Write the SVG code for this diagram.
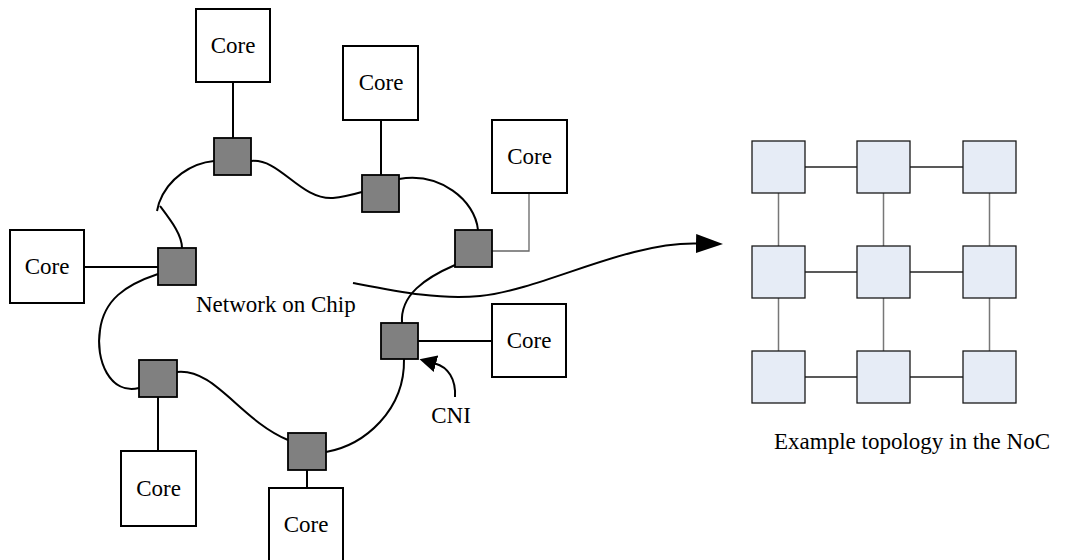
<svg xmlns="http://www.w3.org/2000/svg" width="1065" height="560" viewBox="0 0 1065 560">
  <style>
    .core { fill: #ffffff; stroke: #000000; stroke-width: 2; }
    .router { fill: #808080; stroke: #000000; stroke-width: 1.8; }
    .tile { fill: #e6ecf6; stroke: #1a1a1a; stroke-width: 1.3; }
    .lbl { font-family: "Liberation Serif", "Times New Roman", serif; font-size: 23px; fill: #000000; }
    .mid { text-anchor: middle; }
    .wire { fill: none; stroke: #000000; stroke-width: 2; }
    .thin { fill: none; stroke: #666666; stroke-width: 1.3; }
    .hlink { stroke: #222222; stroke-width: 1.5; }
    .vlink { stroke: #777777; stroke-width: 1.5; }
  </style>
  <defs>
    <marker id="head-lg" markerUnits="userSpaceOnUse" viewBox="0 0 27 19" refX="1" refY="9.5" markerWidth="27" markerHeight="19" orient="auto">
      <path d="M0,0 L27,9.5 L0,19 z" fill="#000000"/>
    </marker>
    <marker id="head-sm" markerUnits="userSpaceOnUse" viewBox="0 0 17 17" refX="1" refY="8.5" markerWidth="17" markerHeight="17" orient="auto">
      <path d="M0,0 L17,8.5 L0,17 z" fill="#000000"/>
    </marker>
  </defs>

  <!-- ring links, core attachments and arrows -->
  <g id="connectors">
    <!-- core to router attachments -->
    <line class="wire" x1="233" y1="82" x2="233" y2="138"/>
    <line class="wire" x1="381" y1="120" x2="381" y2="175"/>
    <polyline class="thin" points="529,193 529,251 492,251"/>
    <line class="wire" x1="84" y1="267" x2="158" y2="267"/>
    <line class="wire" x1="492" y1="341" x2="418" y2="341"/>
    <line class="wire" x1="158" y1="451" x2="158" y2="397"/>
    <line class="wire" x1="307" y1="488" x2="307" y2="470"/>

    <!-- ring between routers -->
    <path class="wire" d="M214,161 C192,163 168,178 159,203 L157,211"/>
    <path class="wire" d="M160,206 C172,222 182,235 182,248"/>
    <path class="wire" d="M251,161 C280,158 300,200 333,198 C345,197 355,194 362,192"/>
    <path class="wire" d="M399,179 C440,172 475,200 478,230"/>
    <path class="wire" d="M455,265 C425,278 400,295 402,323"/>
    <path class="wire" d="M404,359 C405,410 365,445 326,452"/>
    <path class="wire" d="M177,372 C215,368 240,420 288,440"/>
    <path class="wire" d="M139,388 C110,395 95,360 100,330 C104,300 125,285 158,274"/>

    <!-- arrow towards the topology -->
    <path class="wire" d="M353,283 C400,292 440,300 480,296 C545,289 625,242 697,243.5" marker-end="url(#head-lg)"/>
    <!-- CNI pointer -->
    <path class="wire" d="M455,397 C456,379 448,367 435,363.5" marker-end="url(#head-sm)"/>
  </g>

  <!-- cores -->
  <g id="core-top"><rect class="core" x="196" y="9" width="74" height="73"/><text class="lbl mid" x="233" y="53">Core</text></g>
  <g id="core-upper"><rect class="core" x="343" y="46" width="75" height="74"/><text class="lbl mid" x="381" y="90">Core</text></g>
  <g id="core-right"><rect class="core" x="492" y="120" width="75" height="73"/><text class="lbl mid" x="529.5" y="164">Core</text></g>
  <g id="core-left"><rect class="core" x="10" y="230" width="74" height="73"/><text class="lbl mid" x="47" y="274">Core</text></g>
  <g id="core-right-lower"><rect class="core" x="492" y="304" width="74" height="73"/><text class="lbl mid" x="529" y="348">Core</text></g>
  <g id="core-bottom-left"><rect class="core" x="121" y="451" width="75" height="75"/><text class="lbl mid" x="158.5" y="496">Core</text></g>
  <g id="core-bottom"><rect class="core" x="269" y="488" width="74" height="73"/><text class="lbl mid" x="306" y="532">Core</text></g>

  <!-- network interfaces (routers) -->
  <g id="router-1"><rect class="router" x="214" y="138" width="37" height="37"/></g>
  <g id="router-2"><rect class="router" x="362" y="175" width="37" height="37"/></g>
  <g id="router-3"><rect class="router" x="455" y="230" width="37" height="37"/></g>
  <g id="router-4"><rect class="router" x="381" y="323" width="37" height="36"/></g>
  <g id="router-5"><rect class="router" x="288" y="433" width="38" height="37"/></g>
  <g id="router-6"><rect class="router" x="139" y="360" width="38" height="37"/></g>
  <g id="router-7"><rect class="router" x="158" y="248" width="38" height="37"/></g>

  <!-- labels -->
  <g id="label-noc"><text class="lbl" x="196" y="312">Network on Chip</text></g>
  <g id="label-cni"><text class="lbl mid" x="451" y="423">CNI</text></g>

  <!-- mesh topology -->
  <g id="mesh-links">
    <line class="hlink" x1="805" y1="167" x2="857" y2="167"/>
    <line class="hlink" x1="910" y1="167" x2="963" y2="167"/>
    <line class="hlink" x1="805" y1="272" x2="857" y2="272"/>
    <line class="hlink" x1="910" y1="272" x2="963" y2="272"/>
    <line class="hlink" x1="805" y1="377" x2="857" y2="377"/>
    <line class="hlink" x1="910" y1="377" x2="963" y2="377"/>
    <line class="vlink" x1="778.5" y1="193" x2="778.5" y2="246"/>
    <line class="vlink" x1="883.5" y1="193" x2="883.5" y2="246"/>
    <line class="vlink" x1="989.5" y1="193" x2="989.5" y2="246"/>
    <line class="vlink" x1="778.5" y1="298" x2="778.5" y2="351"/>
    <line class="vlink" x1="883.5" y1="298" x2="883.5" y2="351"/>
    <line class="vlink" x1="989.5" y1="298" x2="989.5" y2="351"/>
  </g>
  <g id="tile-11"><rect class="tile" x="752" y="141" width="53" height="52"/></g>
  <g id="tile-12"><rect class="tile" x="857" y="141" width="53" height="52"/></g>
  <g id="tile-13"><rect class="tile" x="963" y="141" width="53" height="52"/></g>
  <g id="tile-21"><rect class="tile" x="752" y="246" width="53" height="52"/></g>
  <g id="tile-22"><rect class="tile" x="857" y="246" width="53" height="52"/></g>
  <g id="tile-23"><rect class="tile" x="963" y="246" width="53" height="52"/></g>
  <g id="tile-31"><rect class="tile" x="752" y="351" width="53" height="52"/></g>
  <g id="tile-32"><rect class="tile" x="857" y="351" width="53" height="52"/></g>
  <g id="tile-33"><rect class="tile" x="963" y="351" width="53" height="52"/></g>

  <g id="label-topology"><text class="lbl" x="774" y="449">Example topology in the NoC</text></g>
</svg>
